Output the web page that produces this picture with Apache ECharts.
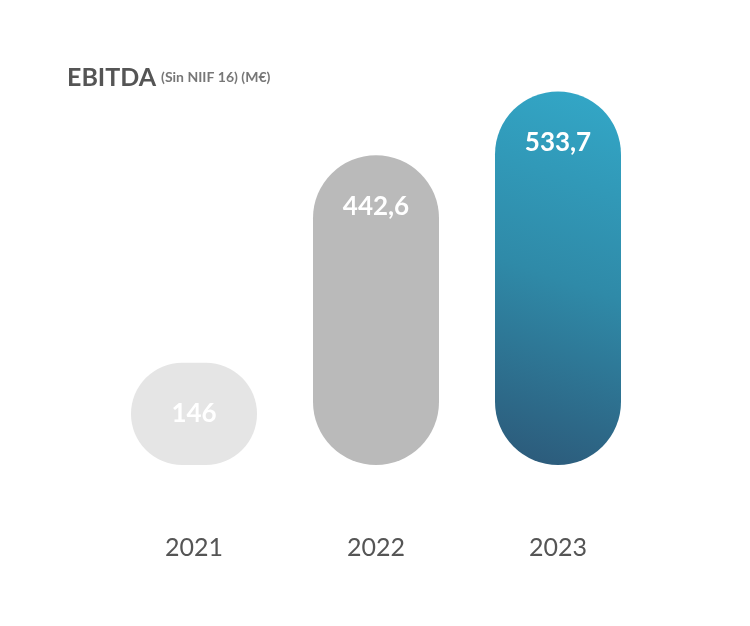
<!DOCTYPE html>
<html><head><meta charset="utf-8">
<script src="https://cdn.jsdelivr.net/npm/echarts@6/dist/echarts.min.js"></script>
<style>html,body{margin:0;background:#fff}#c{width:750px;height:626px}</style>
</head><body><div id="c"></div>
<script>
const categories = ['2021', '2022', '2023'];
const values = [146, 442.6, 533.7];
const labels = ['146', '442,6', '533,7'];
const colors = [
  '#e5e5e5',
  '#bababa',
  new echarts.graphic.LinearGradient(1, 0, 0, 1, [
    {offset: 0, color: '#33a8c8'},
    {offset: 0.5, color: '#2f8aa8'},
    {offset: 1, color: '#2c5878'}
  ])
];
const chart = echarts.init(document.getElementById('c'));
chart.setOption({
  backgroundColor: '#fff',
  title: {
    text: '{a|EBITDA} {b|(Sin NIIF 16) (M€)}',
    left: 62, top: 60,
    textStyle: {
      rich: {
        a: {fontFamily: 'Lato', fontSize: 25, color: '#555'},
        b: {fontFamily: 'Lato', fontSize: 14, color: '#777'}
      }
    }
  },
  grid: {left: 103, right: 101, top: 45, bottom: 161},
  xAxis: {
    type: 'category', data: categories,
    axisLine: {show: false}, axisTick: {show: false},
    axisLabel: {margin: 70, fontFamily: 'Lato', fontSize: 25, color: '#555'}
  },
  yAxis: {type: 'value', min: 0, max: 600, show: false, splitLine: {show: false}},
  series: [{
    type: 'bar', barWidth: 126,
    data: values.map((v, i) => ({
      value: v,
      itemStyle: {color: colors[i], borderRadius: 63},
      label: {formatter: labels[i]}
    })),
    label: {
      show: true, position: 'insideTop', distance: 38,
      color: '#fff', fontFamily: 'Lato', fontWeight: 'bold', fontSize: 26
    }
  }]
});
</script></body></html>
